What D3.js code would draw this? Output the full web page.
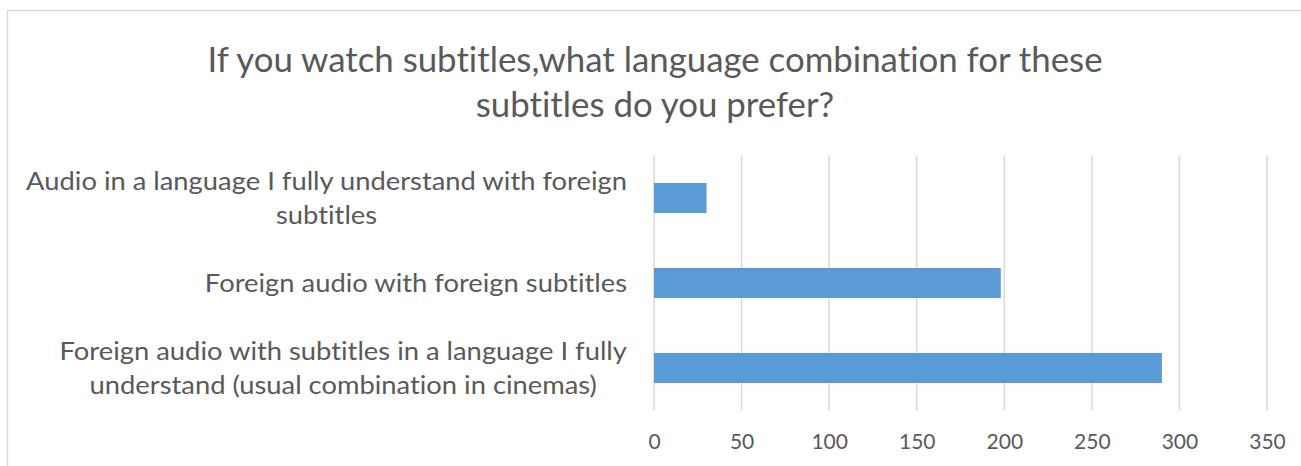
<!DOCTYPE html>
<html>
<head>
<meta charset="utf-8">
<script src="https://cdn.jsdelivr.net/npm/d3@7"></script>
<style>
  html, body { margin: 0; padding: 0; background: #fff; }
  svg { display: block; }
  text { font-family: Lato, "Open Sans", sans-serif; fill: #595959; font-variant-ligatures: none; font-feature-settings: "liga" 0, "clig" 0; }
</style>
</head>
<body>
<div id="chart"></div>
<script>
// Survey answers: preferred language combination for subtitles
const categories = [
  "Audio in a language I fully understand with foreign subtitles",
  "Foreign audio with foreign subtitles",
  "Foreign audio with subtitles in a language I fully understand (usual combination in cinemas)"
];
// How each category label wraps onto lines
const categoryLines = [
  ["Audio in a language I fully understand with foreign", "subtitles"],
  ["Foreign audio with foreign subtitles"],
  ["Foreign audio with subtitles in a language I fully", "understand (usual combination in cinemas)"]
];
const responses = [30, 198, 290];
const xTicks = [0, 50, 100, 150, 200, 250, 300, 350];
const titleLines = [
  "If you watch subtitles,what language combination for these",
  "subtitles do you prefer?"
];

const W = 1301, H = 466;
const plot = { left: 654, right: 1267, top: 155.5, bottom: 410.5 };

const svg = d3.select("#chart").append("svg")
  .attr("width", W).attr("height", H);

svg.append("rect").attr("width", W).attr("height", H).attr("fill", "#fff");

// chart area frame
svg.append("rect")
  .attr("x", 7.5).attr("y", 10.5)
  .attr("width", W + 20).attr("height", H + 20)
  .attr("fill", "none").attr("stroke", "#D9D9D9").attr("stroke-width", 1.5);

const x = d3.scaleLinear().domain([0, 350]).range([plot.left, plot.right]);
const y = d3.scaleBand().domain(categories)
  .range([plot.top, plot.bottom])
  .paddingInner(0.647).paddingOuter(0.3235);

// stretch or squeeze text horizontally by a fixed factor
function condense(sel, factor) {
  sel.each(function () {
    const w = this.getComputedTextLength();
    d3.select(this).attr("textLength", w * factor).attr("lengthAdjust", "spacingAndGlyphs");
  });
}

// vertical gridlines
svg.append("g").selectAll("line").data(xTicks).join("line")
  .attr("x1", d => x(d)).attr("x2", d => x(d))
  .attr("y1", plot.top).attr("y2", plot.bottom)
  .attr("stroke", "#D9D9D9").attr("stroke-width", 1.5);

// x axis labels
const xAxis = svg.append("g")
  .attr("transform", `translate(0,${plot.bottom})`)
  .call(d3.axisBottom(x).tickValues(xTicks).tickSize(0).tickPadding(0).tickFormat(d3.format("d")));
xAxis.select(".domain").remove();
xAxis.selectAll("text")
  .attr("y", 38.5).attr("dy", 0)
  .attr("fill", "#595959")
  .style("font-family", "Lato, 'Open Sans', sans-serif")
  .style("font-size", "21px");

// bars
svg.append("g").selectAll("rect").data(categories).join("rect")
  .attr("x", x(0))
  .attr("y", d => y(d))
  .attr("width", (d, i) => x(responses[i]) - x(0))
  .attr("height", y.bandwidth())
  .attr("fill", "#5B9BD5");

// category labels, lines centred on each other, block right-aligned
const lineH = 34;
const labelRight = 627;
categories.forEach((cat, i) => {
  const lines = categoryLines[i];
  const c = y(cat) + y.bandwidth() / 2;
  const g = svg.append("g");
  const t = g.append("text").attr("text-anchor", "middle").style("font-size", "25px");
  lines.forEach((ln, j) => {
    t.append("tspan").attr("x", 0)
      .attr("y", c + (j - (lines.length - 1) / 2) * lineH + 8.5)
      .text(ln);
  });
  condense(t.selectAll("tspan"), 1.094);
  const bb = g.node().getBBox();
  g.attr("transform", `translate(${labelRight - (bb.x + bb.width)},0)`);
});

// title
const title = svg.append("text").attr("text-anchor", "middle").style("font-size", "34px");
titleLines.forEach((ln, j) => {
  title.append("tspan").attr("x", 655).attr("y", 72 + j * 45).text(ln);
});
condense(title.selectAll("tspan"), 1.024);
</script>
</body>
</html>
